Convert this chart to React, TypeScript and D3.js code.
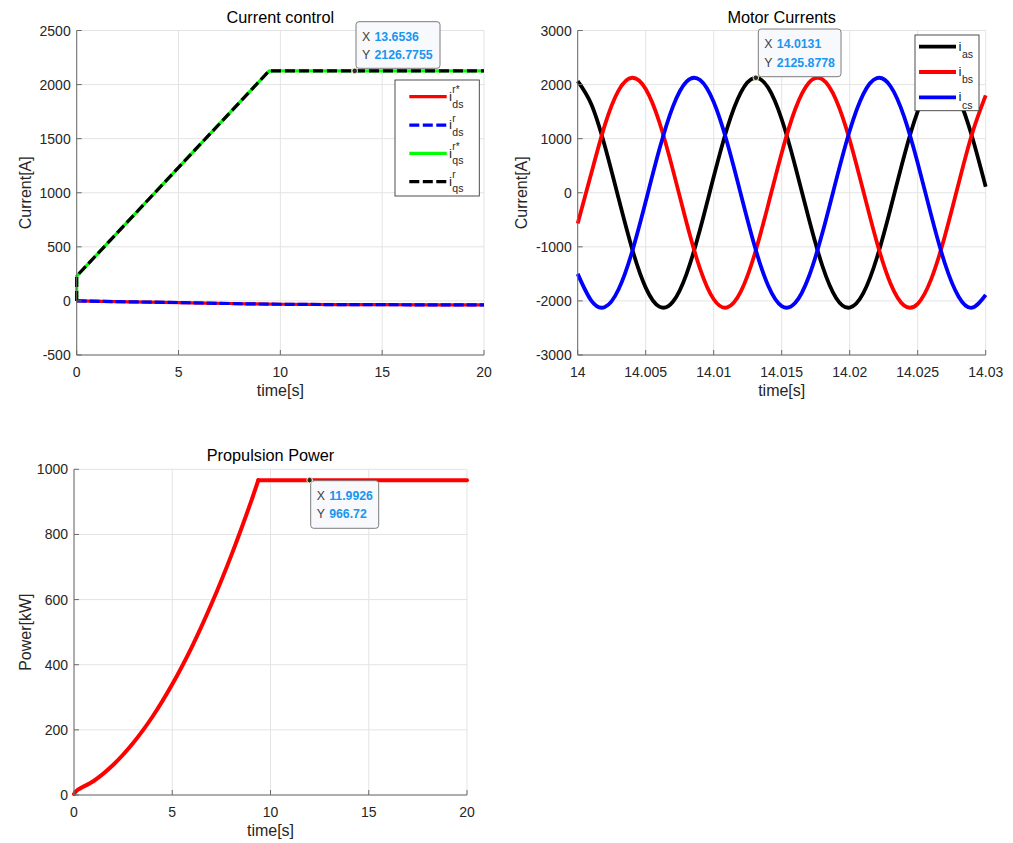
import React from 'react';
import * as d3 from 'd3';

const FONT = '"Liberation Sans", Arial, Helvetica, sans-serif';

// ---------- Panel 1: Current control ----------
const ctrlTime = [0, 0.001, 9.45, 20];
const iqsRef = [0, 230, 2127, 2127];
const iqsAct = [0, 230, 2127, 2127];
const idsTime = [0, 2.5, 5, 7.5, 10, 15, 20];
const idsRef = [0, -8, -15, -24, -31, -35, -37];
const idsAct = [0, -8, -15, -24, -31, -35, -37];
const ctrlXTicks = [0, 5, 10, 15, 20];
const ctrlYTicks = [-500, 0, 500, 1000, 1500, 2000, 2500];

// ---------- Panel 2: Motor Currents ----------
const motorTime = [
  14.000, 14.001, 14.002, 14.003, 14.004, 14.005, 14.006, 14.007, 14.008, 14.009,
  14.010, 14.011, 14.012, 14.013, 14.014, 14.015, 14.016, 14.017, 14.018, 14.019,
  14.020, 14.021, 14.022, 14.023, 14.024, 14.025, 14.026, 14.027, 14.028, 14.029, 14.030,
];
const ias = [
  2062, 1635, 859, -98, -1035, -1754, -2106, -2016, -1503, -676,
  294, 1202, 1857, 2124, 1945, 1359, 487, -487, -1359, -1945,
  -2124, -1857, -1202, -294, 676, 1503, 2016, 2106, 1754, 1035, 110,
];
const ibs = [
  -570, 359, 1255, 1888, 2126, 1917, 1308, 423, -550, -1408,
  -1970, -2120, -1825, -1147, -229, 737, 1549, 2036, 2096, 1716,
  977, 33, -918, -1677, -2084, -2054, -1593, -798, 163, 1091, 1800,
];
const ics = [
  -1500, -1994, -2114, -1790, -1091, -163, 798, 1593, 2054, 2084,
  1677, 918, -33, -977, -1716, -2096, -2036, -1549, -737, 229,
  1147, 1825, 2120, 1970, 1408, 550, -423, -1308, -1917, -2126, -1889,
];
const motorXTicks = [14, 14.005, 14.01, 14.015, 14.02, 14.025, 14.03];
const motorXTickLabels = ['14', '14.005', '14.01', '14.015', '14.02', '14.025', '14.03'];
const motorYTicks = [-3000, -2000, -1000, 0, 1000, 2000, 3000];

// ---------- Panel 3: Propulsion Power ----------
const powerRiseTime = [0, 0.15, 1, 2, 3, 4, 5, 6, 7, 8, 9, 9.38];
const powerRise = [3, 14, 43, 93, 159, 241, 340, 455, 587, 735, 899, 966.72];
const powerFlatTime = [9.38, 20];
const powerFlat = [966.72, 966.72];
const powerXTicks = [0, 5, 10, 15, 20];
const powerYTicks = [0, 200, 400, 600, 800, 1000];

const TEXT = '#262626';
const GRID = '#e3e3e3';
const AXIS = '#6a6a6a';

type Box = { left: number; right: number; top: number; bottom: number };

function Axes(props: {
  box: Box;
  xDomain: [number, number];
  yDomain: [number, number];
  xTicks: number[];
  xTickLabels?: string[];
  yTicks: number[];
  title: string;
  xLabel: string;
  yLabel: string;
  yLabelX: number;
  children: (x: d3.ScaleLinear<number, number>, y: d3.ScaleLinear<number, number>) => React.ReactNode;
}) {
  const { box, xDomain, yDomain, xTicks, yTicks, title, xLabel, yLabel, yLabelX } = props;
  const x = d3.scaleLinear().domain(xDomain).range([box.left, box.right]);
  const y = d3.scaleLinear().domain(yDomain).range([box.bottom, box.top]);
  const cx = (box.left + box.right) / 2;
  const cy = (box.top + box.bottom) / 2;
  return (
    <g>
      {xTicks.map((t, i) => (
        <line key={'gx' + i} x1={x(t)} x2={x(t)} y1={box.top} y2={box.bottom} stroke={GRID} strokeWidth={1} />
      ))}
      {yTicks.map((t, i) => (
        <line key={'gy' + i} x1={box.left} x2={box.right} y1={y(t)} y2={y(t)} stroke={GRID} strokeWidth={1} />
      ))}
      {props.children(x, y)}
      <line x1={box.left} x2={box.left} y1={box.top} y2={box.bottom} stroke={AXIS} strokeWidth={1} />
      <line x1={box.left} x2={box.right} y1={box.bottom} y2={box.bottom} stroke={AXIS} strokeWidth={1} />
      {xTicks.map((t, i) => (
        <g key={'tx' + i}>
          <line x1={x(t)} x2={x(t)} y1={box.bottom} y2={box.bottom - 5} stroke={AXIS} strokeWidth={1} />
          <text x={x(t)} y={box.bottom + 22} textAnchor="middle" fontSize={14} fill={TEXT} fontFamily={FONT}>
            {props.xTickLabels ? props.xTickLabels[i] : String(t)}
          </text>
        </g>
      ))}
      {yTicks.map((t, i) => (
        <g key={'ty' + i}>
          <line x1={box.left} x2={box.left + 5} y1={y(t)} y2={y(t)} stroke={AXIS} strokeWidth={1} />
          <text x={box.left - 6} y={y(t) + 5} textAnchor="end" fontSize={14} fill={TEXT} fontFamily={FONT}>
            {String(t)}
          </text>
        </g>
      ))}
      <text x={cx} y={box.top - 8} textAnchor="middle" fontSize={16.3} fill="#000" fontFamily={FONT}>
        {title}
      </text>
      <text x={cx} y={box.bottom + 41} textAnchor="middle" fontSize={16} fill={TEXT} fontFamily={FONT}>
        {xLabel}
      </text>
      <text
        transform={`translate(${yLabelX},${cy}) rotate(-90)`}
        textAnchor="middle"
        fontSize={16}
        fill={TEXT}
        fontFamily={FONT}
      >
        {yLabel}
      </text>
    </g>
  );
}

function DataTip(props: { x: number; y: number; bx: number; by: number; w: number; h: number; xv: string; yv: string }) {
  const { x, y, bx, by, w, h, xv, yv } = props;
  return (
    <g fontFamily={FONT} fontSize={12.3}>
      <rect x={bx} y={by} width={w} height={h} rx={3} fill="#f8f9fc" stroke="#7c7c7c" strokeWidth={1} />
      <text x={bx + 6} y={by + 19} fill="#404040">X</text>
      <text x={bx + 18.5} y={by + 19} fill="#1996ee" fontWeight="bold">{xv}</text>
      <text x={bx + 6} y={by + 37.5} fill="#404040">Y</text>
      <text x={bx + 18.5} y={by + 37.5} fill="#1996ee" fontWeight="bold">{yv}</text>
      <circle cx={x} cy={y} r={2.8} fill="#2a2a2a" stroke="#eeeec8" strokeWidth={1} />
    </g>
  );
}

export default function App() {
  const p1: Box = { left: 76.7, right: 484, top: 30.5, bottom: 355 };
  const p2: Box = { left: 577.7, right: 985.7, top: 30.5, bottom: 355 };
  const p3: Box = { left: 74, right: 467, top: 469.3, bottom: 795 };

  const lineGen = (x: d3.ScaleLinear<number, number>, y: d3.ScaleLinear<number, number>, xs: number[], ys: number[], curve: d3.CurveFactory = d3.curveLinear) =>
    d3
      .line<number>()
      .x((_, i) => x(xs[i]))
      .y((d) => y(d))
      .curve(curve)(ys) || '';

  return (
    <svg
      width={1013}
      height={843}
      style={{ position: 'absolute', left: 0, top: 0, background: '#fff' }}
      fontFamily={FONT}
    >
      <rect x={0} y={0} width={1013} height={843} fill="#fff" />

      {/* Panel 1 */}
      <Axes
        box={p1}
        xDomain={[0, 20]}
        yDomain={[-500, 2500]}
        xTicks={ctrlXTicks}
        yTicks={ctrlYTicks}
        title="Current control"
        xLabel="time[s]"
        yLabel="Current[A]"
        yLabelX={30.5}
      >
        {(x, y) => (
          <g fill="none" strokeLinejoin="round">
            <path d={lineGen(x, y, idsTime, idsRef, d3.curveMonotoneX)} stroke="#ff0000" strokeWidth={3.2} />
            <path d={lineGen(x, y, idsTime, idsAct, d3.curveMonotoneX)} stroke="#0000ff" strokeWidth={3.2} strokeDasharray="10,3" />
            <path d={lineGen(x, y, ctrlTime, iqsRef)} stroke="#00ff00" strokeWidth={3.2} />
            <path d={lineGen(x, y, ctrlTime, iqsAct)} stroke="#000000" strokeWidth={3.2} strokeDasharray="10,4" />
            <DataTip x={x(13.6536)} y={y(2126.7755)} bx={356} by={21.7} w={84} h={46.6} xv="13.6536" yv="2126.7755" />
          </g>
        )}
      </Axes>
      {/* Legend panel 1 */}
      <g fontFamily={FONT} fill={TEXT}>
        <rect x={395} y={80} width={84.3} height={116} fill="#fff" stroke="#3a3a3a" strokeWidth={0.9} />
        {[
          { c: '#ff0000', d: undefined, sup: 'r*', sub: 'ds' },
          { c: '#0000ff', d: '10,3.5', sup: 'r', sub: 'ds' },
          { c: '#00ff00', d: undefined, sup: 'r*', sub: 'qs' },
          { c: '#000000', d: '10,3.5', sup: 'r', sub: 'qs' },
        ].map((e, i) => {
          const yl = 96.7 + i * 28.33;
          return (
            <g key={i}>
              <line x1={409.3} x2={446.7} y1={yl} y2={yl} stroke={e.c} strokeWidth={3.2} strokeDasharray={e.d} />
              <text x={449} y={yl + 4.3} fontSize={13.5}>i</text>
              <text x={452.3} y={yl - 3.5} fontSize={10}>{e.sup}</text>
              <text x={452.3} y={yl + 10.8} fontSize={10.5}>{e.sub}</text>
            </g>
          );
        })}
      </g>

      {/* Panel 2 */}
      <Axes
        box={p2}
        xDomain={[14, 14.03]}
        yDomain={[-3000, 3000]}
        xTicks={motorXTicks}
        xTickLabels={motorXTickLabels}
        yTicks={motorYTicks}
        title="Motor Currents"
        xLabel="time[s]"
        yLabel="Current[A]"
        yLabelX={527}
      >
        {(x, y) => (
          <g fill="none" strokeLinejoin="round">
            <path d={lineGen(x, y, motorTime, ias, d3.curveNatural)} stroke="#000000" strokeWidth={3.8} />
            <path d={lineGen(x, y, motorTime, ibs, d3.curveNatural)} stroke="#ff0000" strokeWidth={3.8} />
            <path d={lineGen(x, y, motorTime, ics, d3.curveNatural)} stroke="#0000ff" strokeWidth={3.8} />
            <DataTip x={x(14.0131)} y={y(2125.8778)} bx={758.3} by={29} w={82.7} h={47.7} xv="14.0131" yv="2125.8778" />
          </g>
        )}
      </Axes>
      {/* Legend panel 2 */}
      <g fontFamily={FONT} fill={TEXT}>
        <rect x={915} y={35} width={64} height={75.7} fill="#fff" stroke="#3a3a3a" strokeWidth={0.9} />
        {[
          { c: '#000000', sub: 'as' },
          { c: '#ff0000', sub: 'bs' },
          { c: '#0000ff', sub: 'cs' },
        ].map((e, i) => {
          const yl = 46.7 + i * 25.3;
          return (
            <g key={i}>
              <line x1={919} x2={956} y1={yl} y2={yl} stroke={e.c} strokeWidth={3.8} />
              <text x={958.5} y={yl + 4} fontSize={13.5}>i</text>
              <text x={961.9} y={yl + 11.3} fontSize={10.5}>{e.sub}</text>
            </g>
          );
        })}
      </g>

      {/* Panel 3 */}
      <Axes
        box={p3}
        xDomain={[0, 20]}
        yDomain={[0, 1000]}
        xTicks={powerXTicks}
        yTicks={powerYTicks}
        title="Propulsion Power"
        xLabel="time[s]"
        yLabel="Power[kW]"
        yLabelX={30.5}
      >
        {(x, y) => (
          <g fill="none" strokeLinejoin="round" strokeLinecap="round">
            <path d={lineGen(x, y, powerRiseTime, powerRise, d3.curveCatmullRom)} stroke="#ff0000" strokeWidth={4} />
            <path d={lineGen(x, y, powerFlatTime, powerFlat)} stroke="#ff0000" strokeWidth={4} />
            <DataTip x={x(11.9926)} y={y(966.72)} bx={310.7} by={480.7} w={68} h={47.6} xv="11.9926" yv="966.72" />
          </g>
        )}
      </Axes>
    </svg>
  );
}
